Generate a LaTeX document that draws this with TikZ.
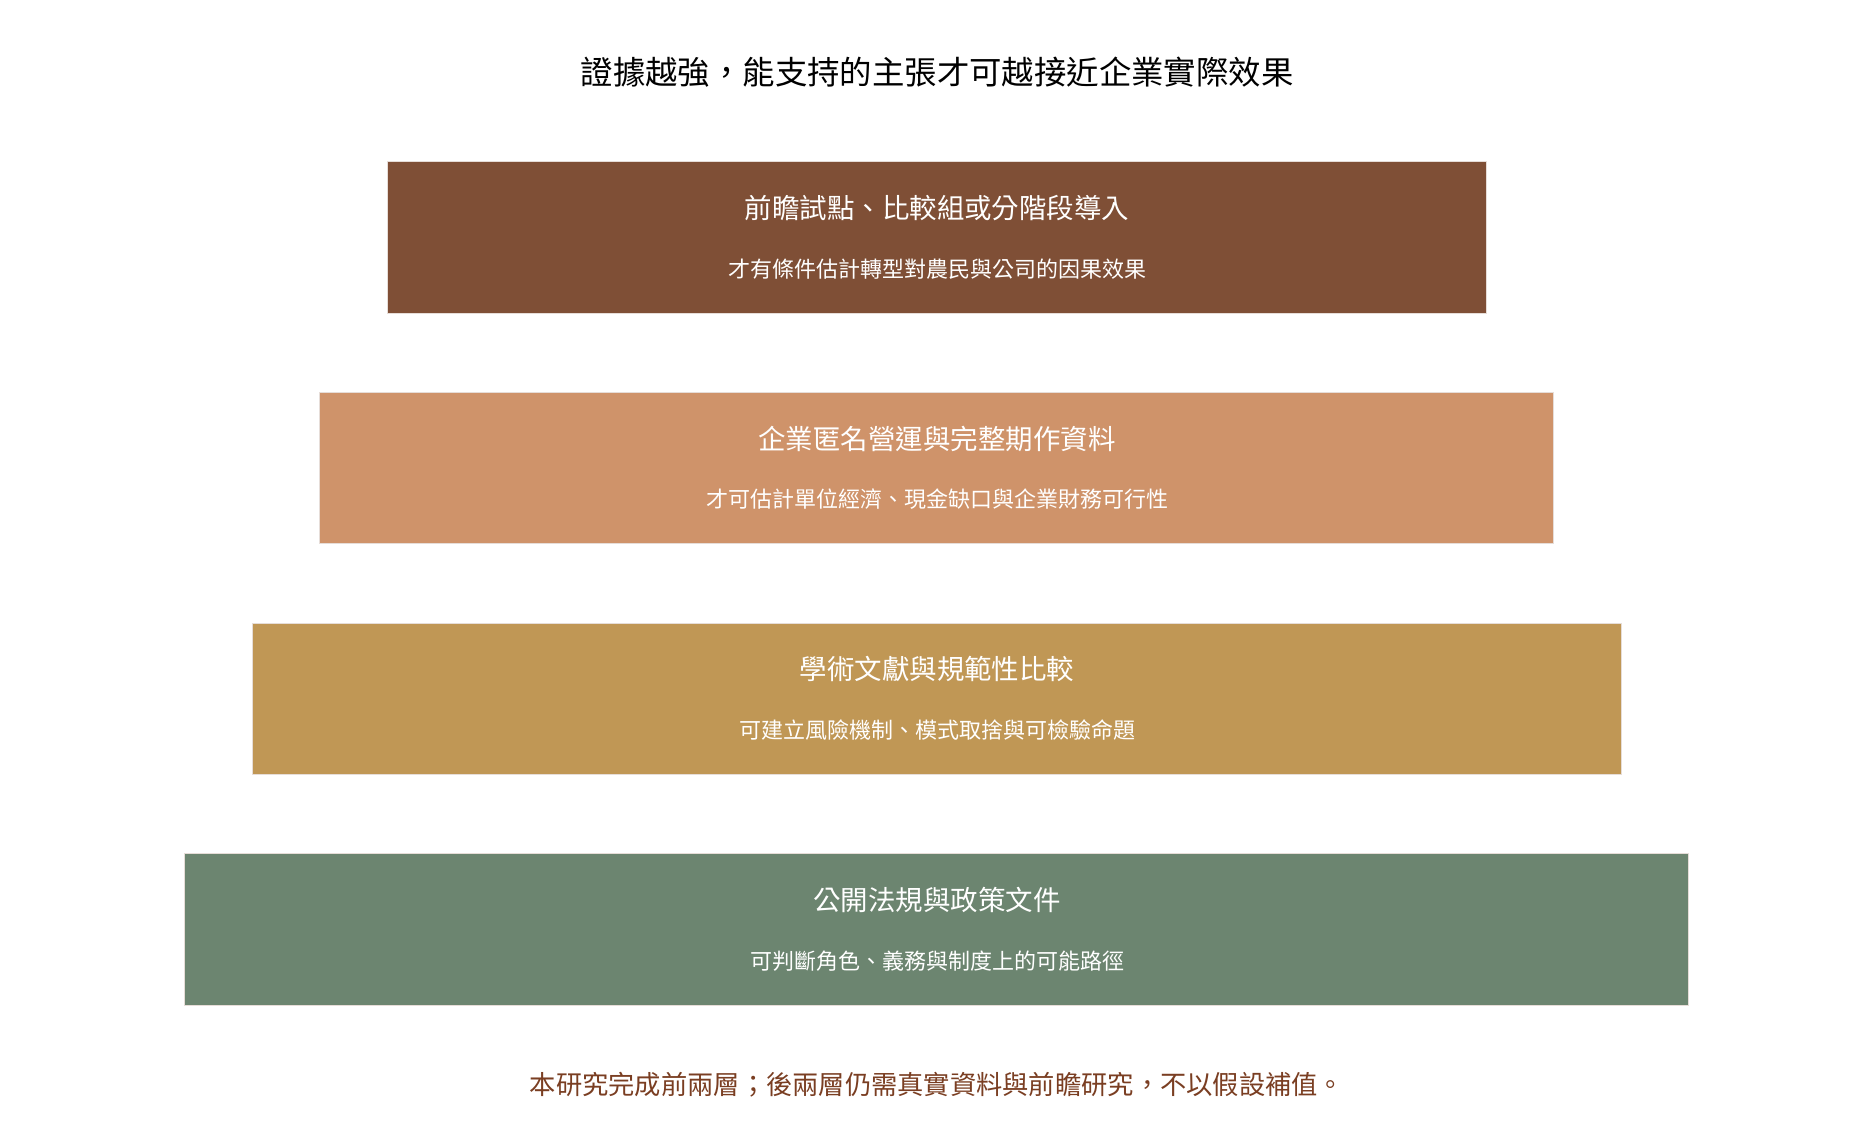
\documentclass[tikz,border=0pt]{standalone}
\usepackage{fontspec}
\setmainfont{Noto Sans CJK TC}
\definecolor{cA}{HTML}{7F4F36}
\definecolor{cB}{HTML}{CF936A}
\definecolor{cC}{HTML}{C09755}
\definecolor{cD}{HTML}{6C8570}
\definecolor{footc}{HTML}{7A3E22}
\definecolor{edgec}{HTML}{E6DDD8}
\begin{document}
\begin{tikzpicture}[x=0.75pt,y=-0.75pt,
  tier/.style={draw=edgec,line width=0.75pt},
  head/.style={text=white,inner sep=0pt,font=\fontsize{20.6pt}{24pt}\selectfont},
  sub/.style={text=white,inner sep=0pt,font=\fontsize{16.5pt}{20pt}\selectfont},
  ttl/.style={text=black,inner sep=0pt,font=\fontsize{24.3pt}{28pt}\selectfont},
  foot/.style={text=footc,inner sep=0pt,font=\fontsize{19.7pt}{24pt}\selectfont}]
\useasboundingbox[fill=white] (0,0) rectangle (1871,1134);
\node[ttl] (title) at (937,72) {證據越強，能支持的主張才可越接近企業實際效果};
% tiers
\path[tier,fill=cA] (387,162) rectangle (1486,313.3);
\node[head] (h1) at (937,208) {前瞻試點、比較組或分階段導入};
\node[sub] (s1) at (937,269) {才有條件估計轉型對農民與公司的因果效果};
\path[tier,fill=cB] (319.5,392.6) rectangle (1553.5,543.9);
\node[head] (h2) at (937,438.6) {企業匿名營運與完整期作資料};
\node[sub] (s2) at (937,499.6) {才可估計單位經濟、現金缺口與企業財務可行性};
\path[tier,fill=cC] (252,623.2) rectangle (1621,774.5);
\node[head] (h3) at (937,669.2) {學術文獻與規範性比較};
\node[sub] (s3) at (937,730.2) {可建立風險機制、模式取捨與可檢驗命題};
\path[tier,fill=cD] (184.5,853.8) rectangle (1688.5,1005);
\node[head] (h4) at (937,899.8) {公開法規與政策文件};
\node[sub] (s4) at (937,960.8) {可判斷角色、義務與制度上的可能路徑};
\node[foot] (footnote) at (937,1085) {本研究完成前兩層；後兩層仍需真實資料與前瞻研究，不以假設補值。};
\end{tikzpicture}
\end{document}
